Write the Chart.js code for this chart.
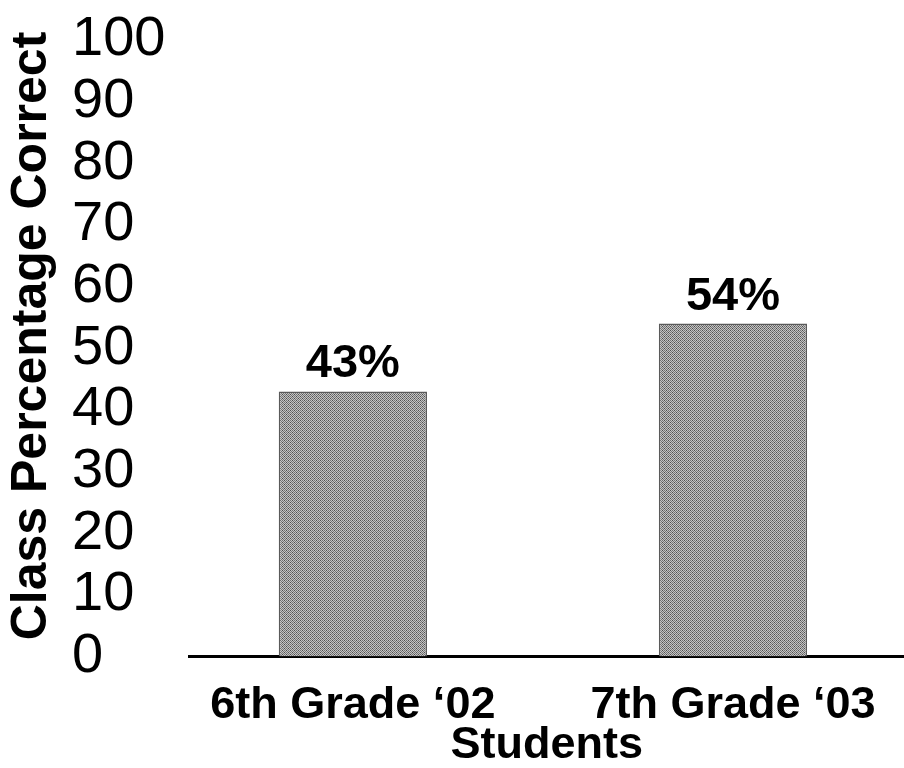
<!DOCTYPE html>
<html>
<head>
<meta charset="utf-8">
<script src="https://cdn.jsdelivr.net/npm/chart.js@4.4.0/dist/chart.umd.min.js"></script>
<style>
html, body { margin: 0; padding: 0; background: #fff; }
</style>
</head>
<body>
<canvas id="myChart" width="904" height="768"></canvas>
<script>
const grades = ['6th Grade ‘02', '7th Grade ‘03'];
const percentCorrect = [43, 54];
const yTickValues = [0, 10, 20, 30, 40, 50, 60, 70, 80, 90, 100];
const yTitle = 'Class Percentage Correct';

const FONT = '"Liberation Sans", Arial, Helvetica, sans-serif';
Chart.defaults.font.family = FONT;
Chart.defaults.color = '#000';

// grey halftone fill for the bars
function halftone() {
    const c = document.createElement('canvas');
    c.width = 4;
    c.height = 4;
    const g = c.getContext('2d');
    g.fillStyle = '#c4c4c4';
    g.fillRect(0, 0, 4, 4);
    g.fillStyle = '#747474';
    for (let i = 0; i < 4; i++) {
        for (let j = 0; j < 4; j++) {
            if ((i + j) % 2 === 0) g.fillRect(i, j, 1, 1);
        }
    }
    g.fillStyle = '#4e4e4e';
    g.fillRect(0, 0, 1, 1);
    g.fillRect(2, 2, 1, 1);
    return g.createPattern(c, 'repeat');
}

// percent text above each bar
const valueLabels = {
    id: 'valueLabels',
    afterDatasetsDraw(chart) {
        const ctx = chart.ctx;
        const meta = chart.getDatasetMeta(0);
        ctx.save();
        ctx.font = 'bold 47px ' + FONT;
        ctx.fillStyle = '#000';
        ctx.textAlign = 'center';
        ctx.textBaseline = 'alphabetic';
        meta.data.forEach((bar, i) => {
            ctx.fillText(percentCorrect[i] + '%', bar.x, bar.y - 14);
        });
        ctx.restore();
    }
};

// rotated y title, kept left of the left-aligned tick numbers
const sideTitle = {
    id: 'sideTitle',
    afterDraw(chart) {
        const ctx = chart.ctx;
        ctx.save();
        ctx.translate(32, 336);
        ctx.rotate(-Math.PI / 2);
        ctx.font = 'bold 50px ' + FONT;
        ctx.fillStyle = '#000';
        ctx.textAlign = 'center';
        ctx.textBaseline = 'middle';
        ctx.fillText(yTitle, 0, 0);
        ctx.restore();
    }
};

const ctx = document.getElementById('myChart').getContext('2d');
const myChart = new Chart(ctx, {
    type: 'bar',
    data: {
        datasets: [{
            data: grades.map((g, i) => ({ x: i, y: percentCorrect[i] })),
            backgroundColor: halftone(),
            borderColor: '#5a5a5a',
            borderWidth: 1.5,
            borderSkipped: 'bottom',
            barPercentage: 0.39,
            categoryPercentage: 1
        }]
    },
    options: {
        responsive: false,
        animation: false,
        layout: {
            padding: { top: 0, right: 0, bottom: 0, left: 72 }
        },
        plugins: {
            legend: { display: false },
            tooltip: { enabled: false }
        },
        scales: {
            x: {
                type: 'linear',
                offset: false,
                min: -0.43,
                max: 1.45,
                afterBuildTicks: s => { s.ticks = grades.map((g, i) => ({ value: i })); },
                ticks: {
                    callback: v => grades[v],
                    font: { size: 45, weight: 'bold', lineHeight: 1.1 },
                    padding: 24,
                    maxRotation: 0,
                    autoSkip: false
                },
                grid: { display: false, drawTicks: false, tickLength: 0 },
                border: { display: true, color: '#000', width: 3 },
                title: {
                    display: true,
                    text: 'Students',
                    font: { size: 45, weight: 'bold', lineHeight: 1.0 },
                    padding: { top: -31, bottom: 0 }
                }
            },
            y: {
                min: 0,
                max: 100,
                afterBuildTicks: s => { s.ticks = yTickValues.map(v => ({ value: v })); },
                ticks: {
                    font: { size: 56, lineHeight: 1.0 },
                    padding: 12,
                    crossAlign: 'far',
                    autoSkip: false
                },
                grid: { display: false, drawTicks: false, tickLength: 0 },
                border: { display: false }
            }
        }
    },
    plugins: [valueLabels, sideTitle]
});
</script>
</body>
</html>
